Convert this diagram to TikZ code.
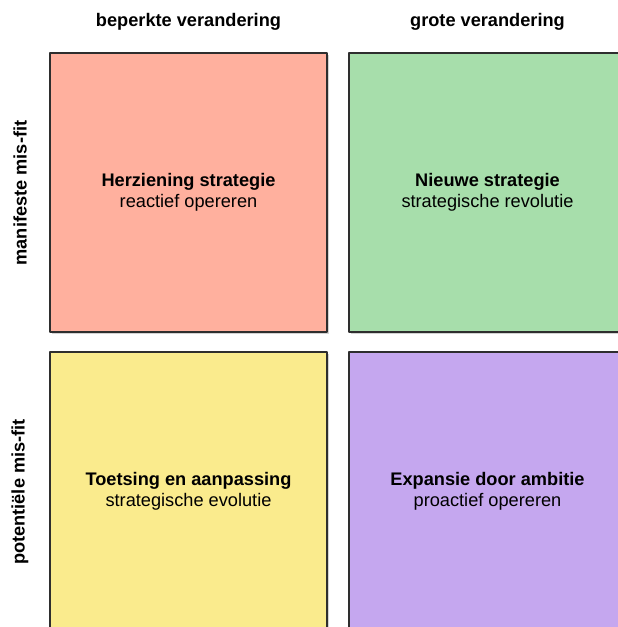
\documentclass[tikz,border=0pt]{standalone}
\usepackage{fontspec}
\setmainfont{Liberation Sans}
\usetikzlibrary{shadows}
\definecolor{rood}{HTML}{FFB09E}
\definecolor{groen}{HTML}{A7DEAB}
\definecolor{geel}{HTML}{FAEB8D}
\definecolor{paars}{HTML}{C5A7EF}
\begin{document}
\begin{tikzpicture}[x=1pt, y=-1pt, line join=round, font=\fontsize{18.2}{21.5}\selectfont]
    \def\bw{277} \def\bh{279}
					\tikzset{vak/.style={draw=black!82, line width=1.4pt, minimum width=\bw pt, minimum height=\bh pt, align=center, inner sep=0pt,
							drop shadow={shadow xshift=1.5pt, shadow yshift=-1.5pt, opacity=0.35}},
						kop/.style={font=\fontsize{18.2}{21.5}\selectfont\bfseries}}
					\clip (0,0) rectangle (618,627);
					% kolommen en rijen
					\node[kop] (kol1) at (188.5,22) {beperkte verandering};
					\node[kop] (kol2) at (487.5,22) {grote verandering};
					\node[kop, rotate=90] (rij1) at (20,193) {manifeste mis-fit};
					\node[kop, rotate=90] (rij2) at (20,492) {potentiële mis-fit};
					% de vier kwadranten
					\foreach \naam/\pos/\kleur/\titel/\sub in {
						herz/{(188.5,192.5)}/rood/Herziening strategie/reactief opereren,
						nieuw/{(487.5,192.5)}/groen/Nieuwe strategie/strategische revolutie,
						toets/{(188.5,491.5)}/geel/Toetsing en aanpassing/strategische evolutie,
						exp/{(487.5,491.5)}/paars/Expansie door ambitie/proactief opereren}
					\node[vak, fill=\kleur] (\naam) at \pos {\textbf{\titel}\\\sub};
    \end{tikzpicture}
\end{document}
